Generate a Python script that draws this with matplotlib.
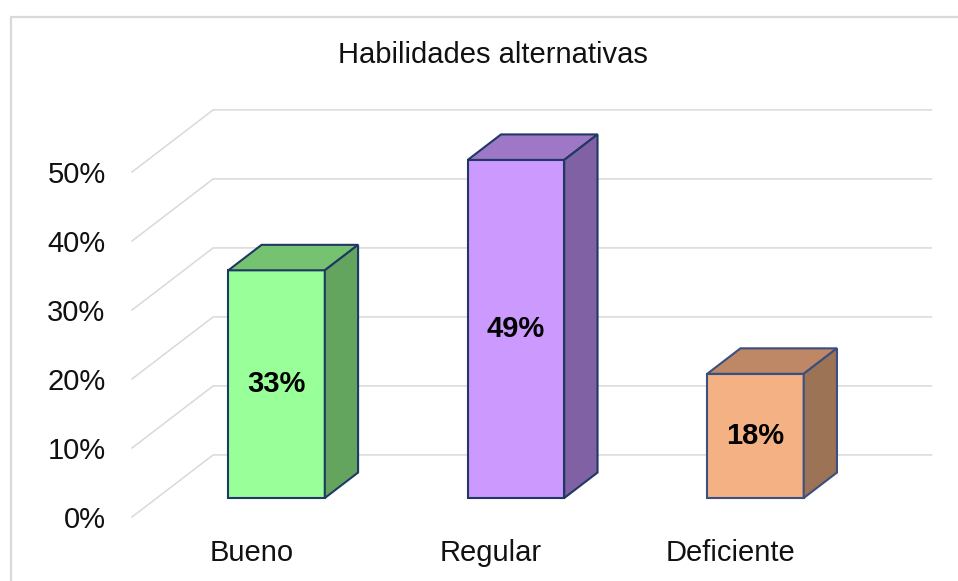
import matplotlib.pyplot as plt
from matplotlib.patches import Polygon, Rectangle

plt.rcParams['font.family'] = ['Liberation Sans', 'DejaVu Sans']

# datos
categorias = ["Bueno", "Regular", "Deficiente"]
valores = [33, 49, 18]
etiquetas = ["33%", "49%", "18%"]
ticks_y = [0, 10, 20, 30, 40, 50]
ticks_lbl = ["0%", "10%", "20%", "30%", "40%", "50%"]

# colores de cada caja: frente, tapa, lado
c_frente = ["#99FF99", "#CC99FF", "#F4B183"]
c_tapa = ["#75C270", "#9E78C6", "#BE8866"]
c_lado = ["#63A55F", "#8061A3", "#9C7354"]
c_borde = ["#1F3864", "#1F3864", "#3B4F80"]

# perspectiva (unidades de datos)
DX, DY = 0.339, 9.0          # profundidad total de la pared
f_ini, f_prof = 0.306, 0.41  # donde empieza la barra y cuanto mide de fondo
ancho = 0.403
xmin, xmax = -0.5, 2.5 + DX
fs = 21
col_txt = "#111111"

fig = plt.figure(figsize=(9.58, 5.81), dpi=100)
ax = fig.add_axes([132 / 958, 64 / 581, 799.5 / 958, 414 / 581])
ax.set_xlim(xmin, xmax)
ax.set_ylim(0, 60)
for s in ax.spines.values():
    s.set_visible(False)

# marco del grafico
fig.patches.append(Rectangle((11 / 958, -0.1), 1.2, 1 - 17 / 581 + 0.1,
                             transform=fig.transFigure, fill=False,
                             edgecolor="#d9d9d9", linewidth=1.6))

# lineas de cuadricula (diagonal + pared de fondo)
for v in ticks_y:
    ax.plot([xmin, xmin + DX, xmax], [v, v + DY, v + DY],
            color="#d9d9d9", linewidth=1.1, zorder=1, clip_on=False)

ox, oy = f_ini * DX, f_ini * DY
bx, by = f_prof * DX, f_prof * DY
pos = list(range(len(categorias)))
xs = [p + ox for p in pos]

ax.bar(xs, valores, width=ancho, bottom=oy, color=c_frente,
       edgecolor=c_borde, linewidth=1.5, zorder=3)

for x, v, ct, cl, cb in zip(xs, valores, c_tapa, c_lado, c_borde):
    xl, xr = x - ancho / 2, x + ancho / 2
    top = oy + v
    tapa = Polygon([(xl, top), (xr, top), (xr + bx, top + by), (xl + bx, top + by)],
                   closed=True, facecolor=ct, edgecolor=cb, linewidth=1.5, zorder=3)
    lado = Polygon([(xr, oy), (xr, top), (xr + bx, top + by), (xr + bx, oy + by)],
                   closed=True, facecolor=cl, edgecolor=cb, linewidth=1.5, zorder=3)
    ax.add_patch(tapa)
    ax.add_patch(lado)

for x, v, t in zip(xs, valores, etiquetas):
    ax.text(x, oy + v / 2, t, ha="center", va="center", fontsize=fs,
            fontweight="bold", color="black", zorder=5)

ax.set_yticks(ticks_y)
ax.set_yticklabels(ticks_lbl, fontsize=fs, color=col_txt)
ax.set_xticks(pos)
ax.set_xticklabels(categorias, fontsize=fs, color=col_txt)
ax.tick_params(axis="y", length=0, pad=19)
ax.tick_params(axis="x", length=0, pad=16)

fig.text(492.5 / 958, 1 - 55 / 581, "Habilidades alternativas",
         ha="center", va="center", fontsize=fs, color=col_txt)

fig.savefig("out.png", dpi=100)
